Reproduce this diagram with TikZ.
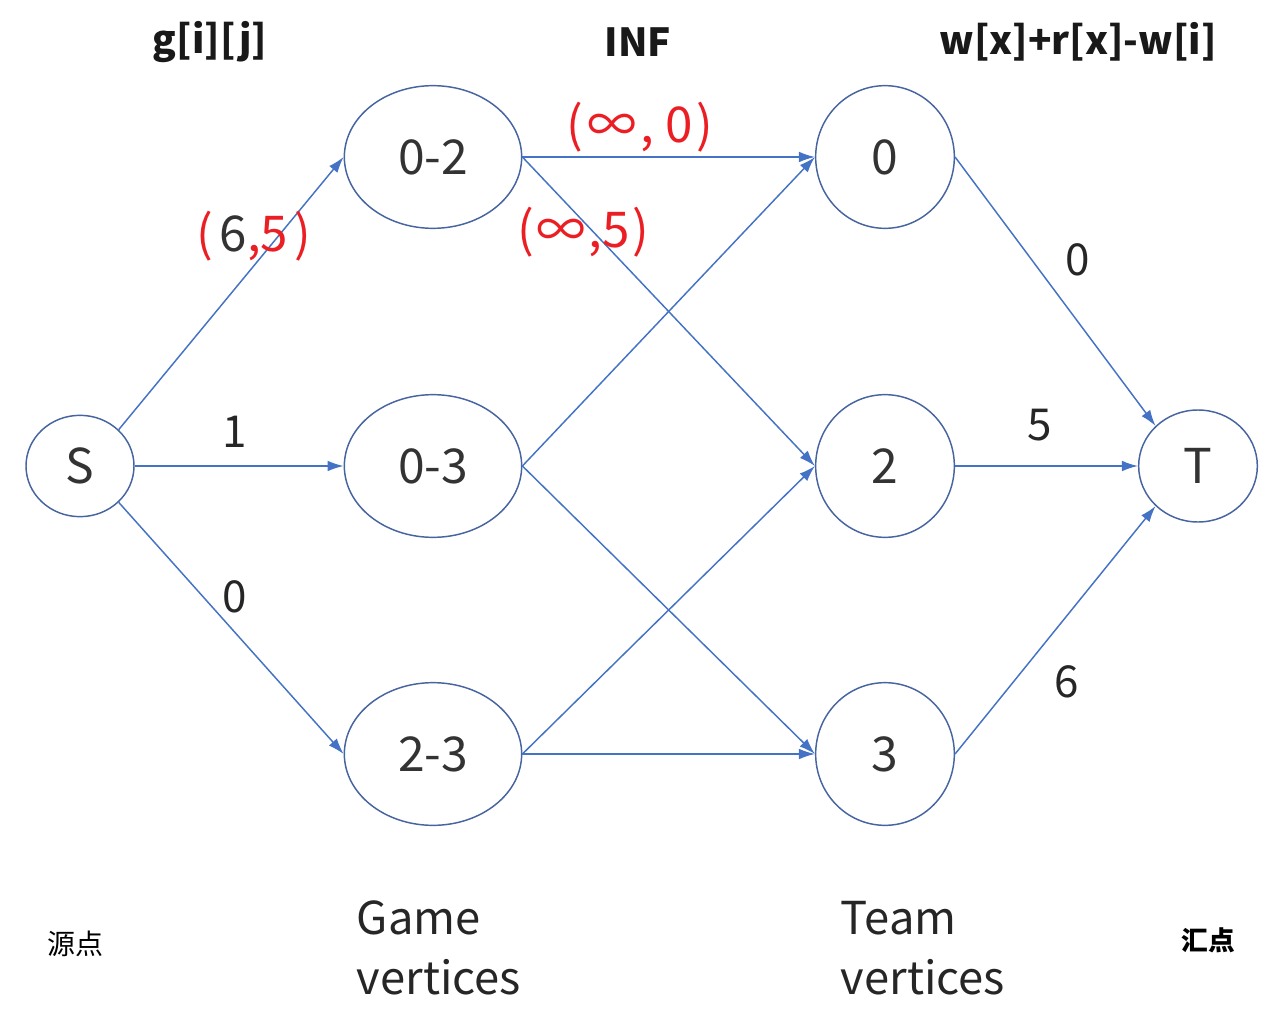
\documentclass[tikz,border=0pt]{standalone}
\usepackage{fontspec}
\setmainfont{Noto Sans CJK SC}
\usetikzlibrary{shapes.geometric,arrows.meta}
\definecolor{edgeblue}{RGB}{68,114,196}
\definecolor{rimblue}{RGB}{70,100,160}
\definecolor{markred}{RGB}{235,30,35}
\tikzset{every picture/.style={line width=0.75pt}}

\begin{document}
\begin{tikzpicture}[x=0.75pt,y=0.75pt,yscale=-1,xscale=1,
	vtx/.style={ellipse,draw=rimblue,line width=1.1pt,inner sep=0pt,text=black!80,font=\fontsize{36}{40}\selectfont},
	flow/.style={draw=edgeblue,line width=1.1pt,-{Latex[length=12pt,width=8pt]}},
	lbl/.style={text=black!85,font=\fontsize{33}{40}\selectfont},
	redlbl/.style={text=markred,font=\fontsize{37}{40}\selectfont},
	head/.style={text=black!90,font=\bfseries\fontsize{29}{34}\selectfont}]
		\useasboundingbox (0,0) rectangle (1277,1012);
		
		%Shape: Ellipse [source]
		\node [vtx,minimum width=81pt,minimum height=76pt] (src) at (80,466) {S};
		%Shape: Ellipse [game vertices]
		\node [vtx,minimum width=133pt,minimum height=107pt] (g02) at (433,157) {0-2};
		\node [vtx,minimum width=133pt,minimum height=107pt] (g03) at (433,466) {0-3};
		\node [vtx,minimum width=133pt,minimum height=107pt] (g23) at (433,754) {2-3};
		%Shape: Ellipse [team vertices]
		\node [vtx,minimum width=104pt,minimum height=107pt] (t0) at (885,157) {0};
		\node [vtx,minimum width=104pt,minimum height=107pt] (t2) at (885,466) {2};
		\node [vtx,minimum width=104pt,minimum height=107pt] (t3) at (885,754) {3};
		%Shape: Ellipse [sink]
		\node [vtx,minimum width=89pt,minimum height=84pt] (snk) at (1198,466) {T};
		
		\draw [flow] (src.north east) -- (g02.west) ;
		\draw [flow] (src.east) -- (g03.west) ;
		\draw [flow] (src.south east) -- (g23.west) ;
		\draw [flow] (g02.east) -- (t0.west) ;
		\draw [flow] (g02.east) -- (t2.west) ;
		\draw [flow] (g03.east) -- (t0.west) ;
		\draw [flow] (g03.east) -- (t3.west) ;
		\draw [flow] (g23.east) -- (t2.west) ;
		\draw [flow] (g23.east) -- (t3.west) ;
		\draw [flow] (t0.east) -- (snk.north west) ;
		\draw [flow] (t2.east) -- (snk.west) ;
		\draw [flow] (t3.east) -- (snk.south west) ;
		
		\node [head] (hcap) at (210,42) {g[i][j]};
		\node [head] (hinf) at (638,42) {INF};
		\node [head] (hcost) at (1078,42) {w[x]+r[x]-w[i]};
		
		\node [lbl] (l1) at (235,432) {1};
		\node [lbl] (l0) at (235,597) {0};
		\node [lbl] (r0) at (1078,260) {0};
		\node [lbl] (r5) at (1040,425) {5};
		\node [lbl] (r6) at (1067,682) {6};
		\node [redlbl] (m65) at (254,236) {(\hspace{5pt}\textcolor{black!80}{6},5\hspace{5pt})};
		\node [redlbl] (mi0) at (640,127) {(\hspace{3pt}∞\hspace{3pt},\hspace{8pt}0\hspace{3pt})};
		\node [redlbl] (mi5) at (583,232) {(\hspace{2pt}∞\hspace{2pt},5\hspace{2pt})};
		
		\node [text=black,font=\fontsize{21}{24}\selectfont] (csrc) at (75,944) {源点};
		\node [text=black,font=\bfseries\fontsize{20}{24}\selectfont] (csnk) at (1208,940) {汇点};
		\node [lbl,anchor=west,align=left,font=\fontsize{34}{45}\selectfont] (cgame) at (352,948) {Game\\vertices};
		\node [lbl,anchor=west,align=left,font=\fontsize{34}{45}\selectfont] (cteam) at (836,948) {Team\\vertices};
		
\end{tikzpicture}
\end{document}
